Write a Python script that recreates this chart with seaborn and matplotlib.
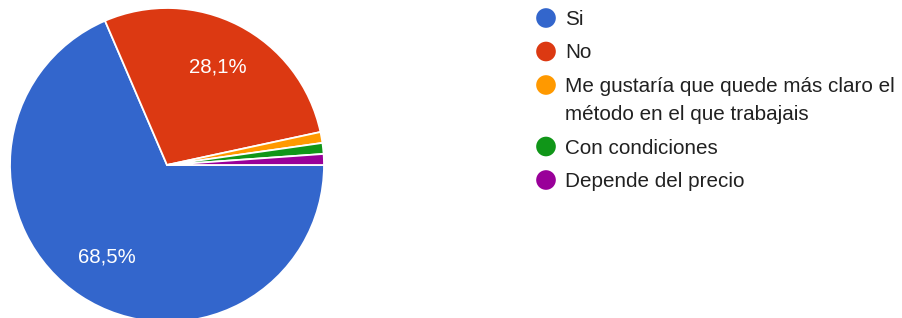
import matplotlib
matplotlib.use("Agg")
import matplotlib.pyplot as plt
import seaborn as sns

# respuestas (89 en total)
categorias = ["Si", "No", "Me gustaría que quede más claro el\nmétodo en el que trabajais",
              "Con condiciones", "Depende del precio"]
respuestas = [61, 25, 1, 1, 1]
colores = ["#3366cc", "#dc3912", "#ff9900", "#109618", "#990099"]

sns.set_theme(style="white")
plt.rcParams['font.family'] = ['Liberation Sans', 'DejaVu Sans']

W, H = 902, 318
fig = plt.figure(figsize=(W / 100, H / 100), dpi=100)

# pie centred at (167, 165) px, radius 157 px
cx, cy, r = 167, 165, 157
ax = fig.add_axes([(cx - r) / W, (H - cy - r) / H, 2 * r / W, 2 * r / H])


def etiqueta(pct):
    if pct < 5:
        return ''
    return f"{pct:.1f}".replace('.', ',') + '%'


wedges, textos, autotextos = ax.pie(
    respuestas, colors=colores, startangle=0, counterclock=False,
    autopct=etiqueta, pctdistance=0.7,
    wedgeprops=dict(edgecolor='white', linewidth=1.3),
    textprops=dict(color='white', fontsize=14.7))
ax.set_xlim(-1, 1)
ax.set_ylim(-1, 1)
ax.set_aspect('equal')
ax.axis('off')
for w in wedges:
    w.set_clip_on(False)

# leyenda manual en coordenadas de pixel
leg = fig.add_axes([0, 0, 1, 1])
leg.set_xlim(0, W)
leg.set_ylim(H, 0)
leg.axis('off')

y = 18
for cat, col in zip(categorias, colores):
    leg.scatter([546], [y], s=200, color=col, edgecolors='none')
    for j, linea in enumerate(cat.split('\n')):
        leg.text(565, y + 28 * j + 7, linea, fontsize=14.9, color='#212121',
                 va='baseline', ha='left')
    y += 33.5 + 28 * cat.count('\n')

fig.savefig("out.png", dpi=100, facecolor='white')
